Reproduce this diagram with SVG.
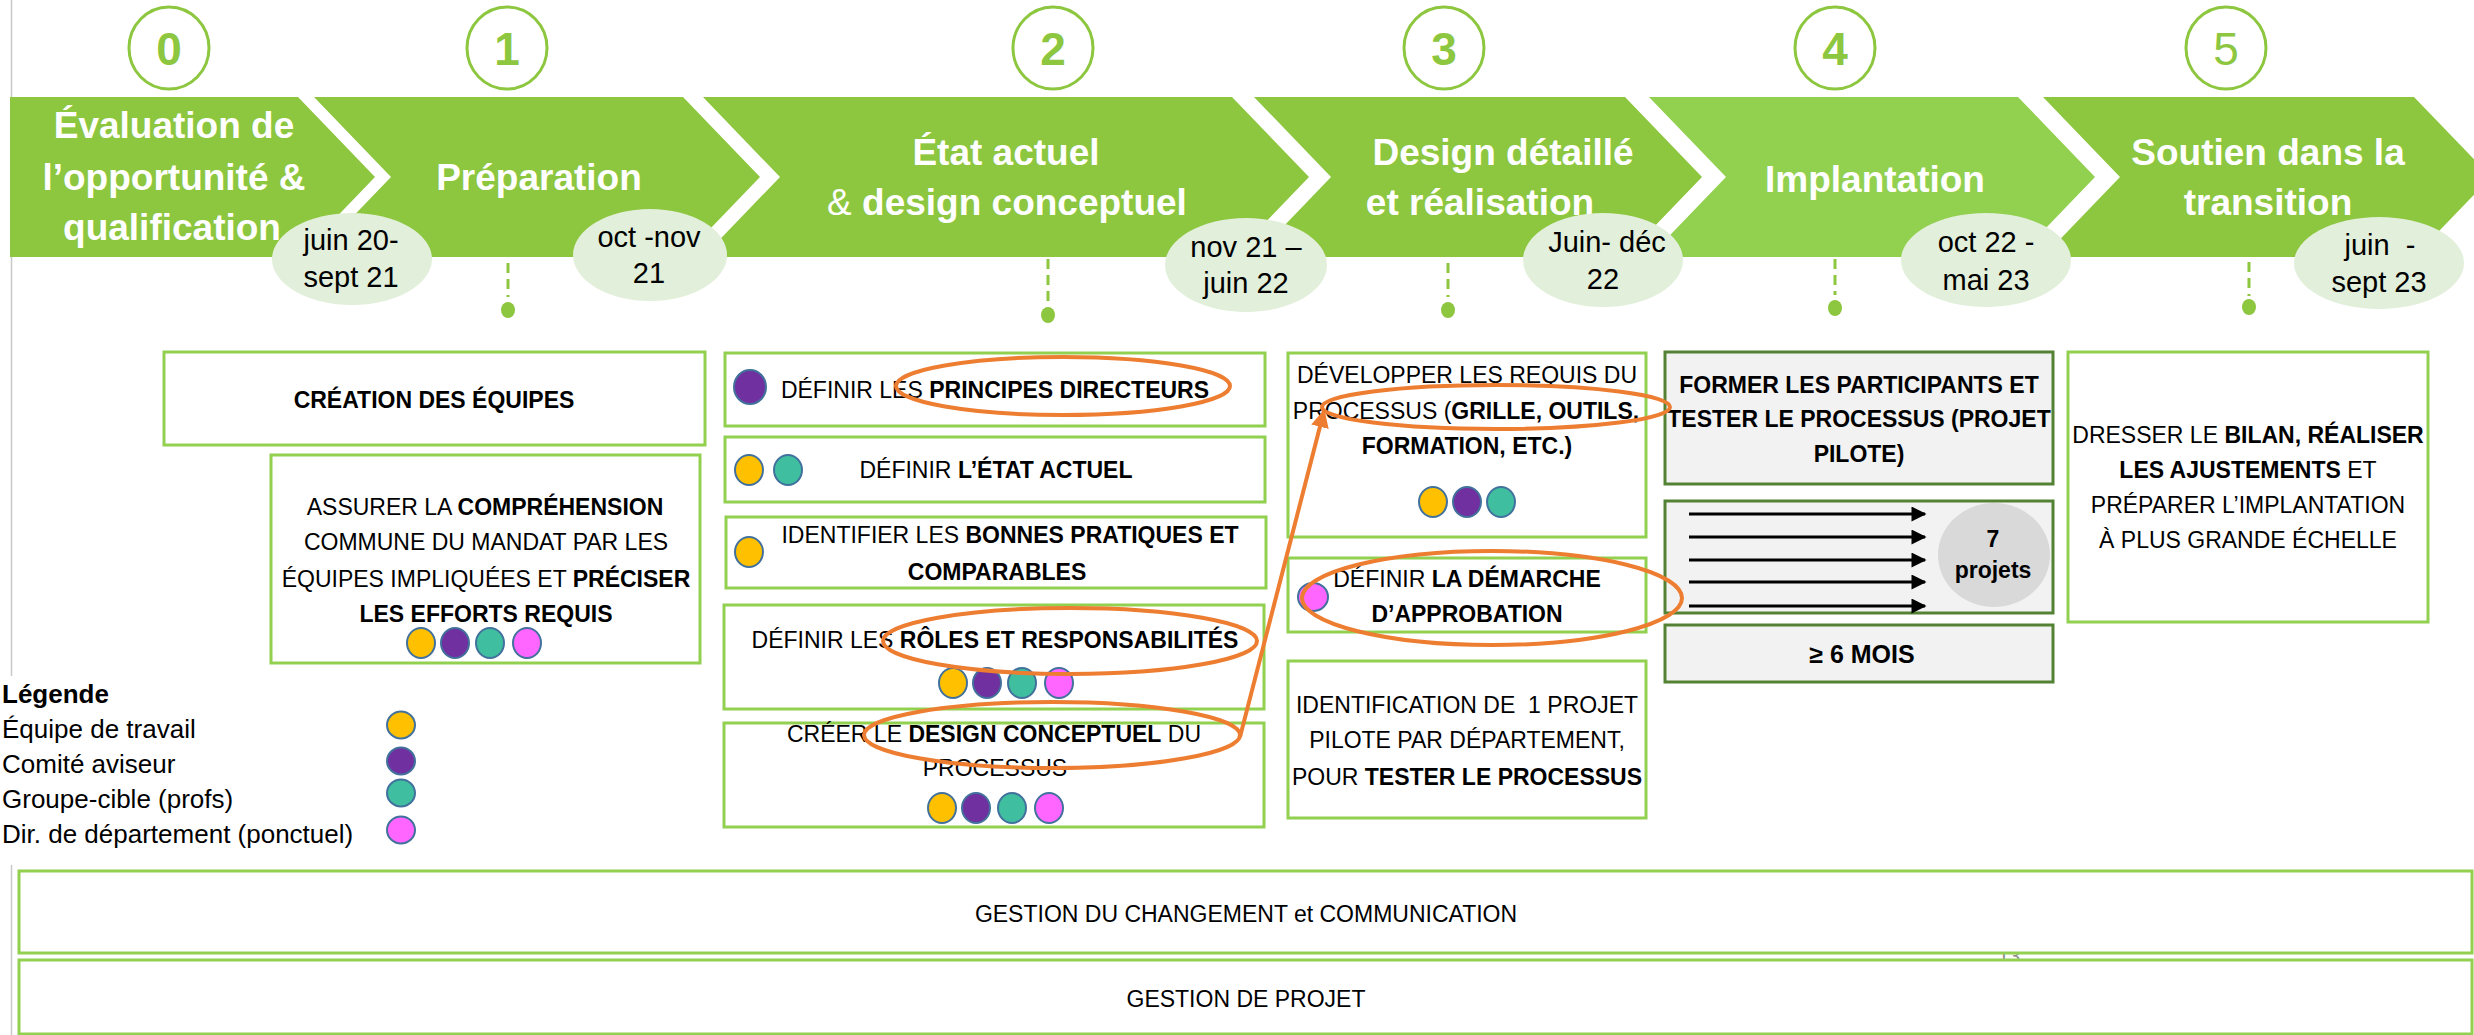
<svg xmlns="http://www.w3.org/2000/svg" width="2474" height="1035" viewBox="0 0 2474 1035">
<style>
text{font-family:"Liberation Sans",Arial,sans-serif;}
.chev{fill:#8DC63F;}
.chev4{fill:#92D050;}
.ttl{fill:#fff;font-weight:bold;font-size:37px;text-anchor:middle;}
.num{fill:#fff;stroke:#8DC63F;stroke-width:3;}
.numt{fill:#8DC63F;font-size:46px;font-weight:bold;text-anchor:middle;}
.date{fill:#E2EFDA;}
.datet{fill:#000;font-size:29px;text-anchor:middle;white-space:pre;}
.dash{stroke:#8DC63F;stroke-width:3;stroke-dasharray:10 6;fill:none;}
.dot{fill:#8DC63F;}
.box{fill:#fff;stroke:#92D050;stroke-width:3;}
.boxd{fill:#F2F2F2;stroke:#548235;stroke-width:3;}
.bt{fill:#000;font-size:23px;text-anchor:middle;white-space:pre;}
.b{font-weight:bold;}
.n{font-weight:normal;}
.y{fill:#FFC000;stroke:#41719C;stroke-width:2;}
.p{fill:#7030A0;stroke:#41719C;stroke-width:2;}
.t{fill:#3FBF9F;stroke:#41719C;stroke-width:2;}
.k{fill:#FF66FF;stroke:#41719C;stroke-width:2;}
.hl{fill:none;stroke:#ED7D31;stroke-width:4;}
.arr{stroke:#000;stroke-width:3;marker-end:url(#blk);}
.leg{fill:#000;font-size:26px;}
.bar{fill:#fff;stroke:#92D050;stroke-width:3;}
</style>
<defs>
<marker id="org" viewBox="0 0 10 10" refX="9" refY="5" markerWidth="4.5" markerHeight="4.5" orient="auto" markerUnits="strokeWidth">
<path d="M0,0 L10,5 L0,10 Z" fill="#ED7D31"/>
</marker>
<marker id="blk" viewBox="0 0 10 10" refX="9" refY="5" markerWidth="5.5" markerHeight="5" orient="auto" markerUnits="strokeWidth">
<path d="M0,0 L10,5 L0,10 Z" fill="#000"/>
</marker>
</defs>

<rect width="2474" height="1035" fill="#fff"/>
<line x1="11.5" y1="0" x2="11.5" y2="676" stroke="#C8C8C8" stroke-width="1.5"/>
<line x1="11.5" y1="865" x2="11.5" y2="1035" stroke="#C8C8C8" stroke-width="1.5"/>

<!-- Phase numbers -->
<g id="num0"><ellipse class="num" cx="169" cy="48" rx="40" ry="41"/><text class="numt" x="169" y="65">0</text></g>
<g id="num1"><ellipse class="num" cx="507" cy="48" rx="40" ry="41"/><text class="numt" x="507" y="65">1</text></g>
<g id="num2"><ellipse class="num" cx="1053" cy="48" rx="40" ry="41"/><text class="numt" x="1053" y="65">2</text></g>
<g id="num3"><ellipse class="num" cx="1444" cy="48" rx="40" ry="41"/><text class="numt" x="1444" y="65">3</text></g>
<g id="num4"><ellipse class="num" cx="1835" cy="48" rx="40" ry="41"/><text class="numt" x="1835" y="65">4</text></g>
<g id="num5"><ellipse class="num" cx="2226" cy="48" rx="40" ry="41"/><text class="numt n" x="2226" y="65">5</text></g>

<!-- Dashed timeline ticks -->
<g id="ticks">
<line class="dash" x1="508" y1="263" x2="508" y2="297"/><ellipse class="dot" cx="508" cy="310" rx="7" ry="8"/>
<line class="dash" x1="1048" y1="259" x2="1048" y2="301"/><ellipse class="dot" cx="1048" cy="315" rx="7" ry="8"/>
<line class="dash" x1="1448" y1="263" x2="1448" y2="297"/><ellipse class="dot" cx="1448" cy="310" rx="7" ry="8"/>
<line class="dash" x1="1835" y1="259" x2="1835" y2="295"/><ellipse class="dot" cx="1835" cy="308" rx="7" ry="8"/>
<line class="dash" x1="2249" y1="262" x2="2249" y2="296"/><ellipse class="dot" cx="2249" cy="307" rx="7" ry="8"/>
</g>

<!-- Chevrons -->
<g id="phase0">
<path class="chev" d="M10,97 L298,97 L375,177 L298,257 L10,257 Z"/>
<text class="ttl" x="174" y="138">Évaluation de</text>
<text class="ttl" x="174" y="190">l’opportunité &amp;</text>
<text class="ttl" x="172" y="240">qualification</text>
</g>
<g id="phase1">
<path class="chev" d="M314,97 L683,97 L760,177 L683,257 L314,257 L391,177 Z"/>
<text class="ttl" x="539" y="190">Préparation</text>
</g>
<g id="phase2">
<path class="chev" d="M703,97 L1232,97 L1309,177 L1232,257 L703,257 L780,177 Z"/>
<text class="ttl" x="1006" y="165">État actuel</text>
<text class="ttl" x="1007" y="215"><tspan class="n">&amp; </tspan>design conceptuel</text>
</g>
<g id="phase3">
<path class="chev" d="M1254,97 L1625,97 L1702,177 L1625,257 L1254,257 L1331,177 Z"/>
<text class="ttl" x="1503" y="165">Design détaillé</text>
<text class="ttl" x="1480" y="215">et réalisation</text>
</g>
<g id="phase4">
<path class="chev4" d="M1649,97 L2018,97 L2095,177 L2018,257 L1649,257 L1726,177 Z"/>
<text class="ttl" x="1875" y="192">Implantation</text>
</g>
<g id="phase5">
<path class="chev" d="M2043,97 L2414,97 L2491,177 L2414,257 L2043,257 L2120,177 Z"/>
<text class="ttl" x="2268" y="165">Soutien dans la</text>
<text class="ttl" x="2268" y="215">transition</text>
</g>

<!-- Dates -->
<g id="date0"><ellipse class="date" cx="352" cy="259" rx="80" ry="46"/><text class="datet" x="351" y="250">juin 20-</text><text class="datet" x="351" y="287">sept 21</text></g>
<g id="date1"><ellipse class="date" cx="650" cy="255" rx="77" ry="46"/><text class="datet" x="649" y="247">oct -nov</text><text class="datet" x="649" y="283">21</text></g>
<g id="date2"><ellipse class="date" cx="1246" cy="265" rx="81" ry="47"/><text class="datet" x="1246" y="257">nov 21 –</text><text class="datet" x="1246" y="293">juin 22</text></g>
<g id="date3"><ellipse class="date" cx="1603" cy="260" rx="80" ry="47"/><text class="datet" x="1607" y="252">Juin- déc</text><text class="datet" x="1603" y="289">22</text></g>
<g id="date4"><ellipse class="date" cx="1986" cy="260" rx="85" ry="47"/><text class="datet" x="1986" y="252">oct 22 -</text><text class="datet" x="1986" y="290">mai 23</text></g>
<g id="date5"><ellipse class="date" cx="2379" cy="263" rx="85" ry="46"/><text class="datet" x="2380" y="255">juin  -</text><text class="datet" x="2379" y="292">sept 23</text></g>

<!-- Column 1 -->
<g id="creation-equipes">
<rect class="box" x="164" y="352" width="541" height="93"/>
<text class="bt b" x="434" y="408">CRÉATION DES ÉQUIPES</text>
</g>
<g id="comprehension">
<rect class="box" x="271" y="455" width="429" height="208"/>
<text class="bt" x="485" y="515">ASSURER LA <tspan class="b">COMPRÉHENSION</tspan></text>
<text class="bt" x="486" y="550">COMMUNE DU MANDAT PAR LES</text>
<text class="bt" x="486" y="587">ÉQUIPES IMPLIQUÉES ET <tspan class="b">PRÉCISER</tspan></text>
<text class="bt b" x="486" y="622">LES EFFORTS REQUIS</text>
<ellipse class="y" cx="421" cy="643" rx="14" ry="15"/>
<ellipse class="p" cx="455" cy="643" rx="14" ry="15"/>
<ellipse class="t" cx="490" cy="643" rx="14" ry="15"/>
<ellipse class="k" cx="527" cy="643" rx="14" ry="15"/>
</g>

<!-- Column 2 -->
<g id="principes">
<rect class="box" x="725" y="353" width="540" height="73"/>
<ellipse class="p" cx="750" cy="387" rx="16" ry="17"/>
<text class="bt" x="995" y="398">DÉFINIR LES <tspan class="b">PRINCIPES DIRECTEURS</tspan></text>
</g>
<g id="etat-actuel">
<rect class="box" x="725" y="437" width="540" height="65"/>
<ellipse class="y" cx="749" cy="470" rx="14" ry="15"/>
<ellipse class="t" cx="788" cy="470" rx="14" ry="15"/>
<text class="bt" x="996" y="478">DÉFINIR <tspan class="b">L’ÉTAT ACTUEL</tspan></text>
</g>
<g id="bonnes-pratiques">
<rect class="box" x="726" y="517" width="540" height="71"/>
<ellipse class="y" cx="749" cy="552" rx="14" ry="15"/>
<text class="bt" x="1010" y="543">IDENTIFIER LES <tspan class="b">BONNES PRATIQUES ET</tspan></text>
<text class="bt b" x="997" y="580">COMPARABLES</text>
</g>
<g id="roles">
<rect class="box" x="724" y="605" width="540" height="104"/>
<text class="bt" x="995" y="648">DÉFINIR LES <tspan class="b">RÔLES ET RESPONSABILITÉS</tspan></text>
<ellipse class="y" cx="953" cy="683" rx="14" ry="15"/>
<ellipse class="p" cx="987" cy="683" rx="14" ry="15"/>
<ellipse class="t" cx="1022" cy="683" rx="14" ry="15"/>
<ellipse class="k" cx="1059" cy="683" rx="14" ry="15"/>
</g>
<g id="design-conceptuel">
<rect class="box" x="724" y="723" width="540" height="104"/>
<text class="bt" x="994" y="742">CRÉER LE <tspan class="b">DESIGN CONCEPTUEL</tspan> DU</text>
<text class="bt" x="995" y="776">PROCESSUS</text>
<ellipse class="y" cx="942" cy="808" rx="14" ry="15"/>
<ellipse class="p" cx="976" cy="808" rx="14" ry="15"/>
<ellipse class="t" cx="1012" cy="808" rx="14" ry="15"/>
<ellipse class="k" cx="1049" cy="808" rx="14" ry="15"/>
</g>

<!-- Column 3 -->
<g id="requis">
<rect class="box" x="1288" y="353" width="358" height="184"/>
<text class="bt" x="1467" y="383">DÉVELOPPER LES REQUIS DU</text>
<text class="bt" x="1466" y="419">PROCESSUS (<tspan class="b">GRILLE, OUTILS,</tspan></text>
<text class="bt b" x="1467" y="454">FORMATION, ETC.)</text>
<ellipse class="y" cx="1433" cy="502" rx="14" ry="15"/>
<ellipse class="p" cx="1467" cy="502" rx="14" ry="15"/>
<ellipse class="t" cx="1501" cy="502" rx="14" ry="15"/>
</g>
<g id="approbation">
<rect class="box" x="1288" y="558" width="358" height="74"/>
<ellipse class="k" cx="1313" cy="597" rx="15" ry="14"/>
<text class="bt" x="1467" y="587">DÉFINIR <tspan class="b">LA DÉMARCHE</tspan></text>
<text class="bt b" x="1467" y="622">D’APPROBATION</text>
</g>
<g id="projet-pilote">
<rect class="box" x="1288" y="661" width="358" height="157"/>
<text class="bt" x="1467" y="713">IDENTIFICATION DE  1 PROJET</text>
<text class="bt" x="1467" y="748">PILOTE PAR DÉPARTEMENT,</text>
<text class="bt" x="1467" y="785">POUR <tspan class="b">TESTER LE PROCESSUS</tspan></text>
</g>

<!-- Column 4 -->
<g id="former">
<rect class="boxd" x="1665" y="352" width="388" height="132"/>
<text class="bt b" x="1859" y="393">FORMER LES PARTICIPANTS ET</text>
<text class="bt b" x="1859" y="427">TESTER LE PROCESSUS (PROJET</text>
<text class="bt b" x="1859" y="462">PILOTE)</text>
</g>
<g id="sept-projets">
<rect class="boxd" x="1665" y="501" width="388" height="112"/>
<line class="arr" x1="1689" y1="514" x2="1925" y2="514"/>
<line class="arr" x1="1689" y1="537" x2="1925" y2="537"/>
<line class="arr" x1="1689" y1="560" x2="1925" y2="560"/>
<line class="arr" x1="1689" y1="582" x2="1925" y2="582"/>
<line class="arr" x1="1689" y1="606" x2="1925" y2="606"/>
<ellipse cx="1994" cy="555" rx="56" ry="52" fill="#D9D9D9"/>
<text class="bt b" x="1993" y="547">7</text>
<text class="bt b" x="1993" y="578">projets</text>
</g>
<g id="six-mois">
<rect class="boxd" x="1665" y="625" width="388" height="57"/>
<text class="bt b" x="1862" y="663" style="font-size:25px">≥ 6 MOIS</text>
</g>

<!-- Column 5 -->
<g id="bilan">
<rect class="box" x="2068" y="352" width="360" height="270"/>
<text class="bt" x="2248" y="443">DRESSER LE <tspan class="b">BILAN, RÉALISER</tspan></text>
<text class="bt" x="2248" y="478"><tspan class="b">LES AJUSTEMENTS</tspan> ET</text>
<text class="bt" x="2248" y="513">PRÉPARER L’IMPLANTATION</text>
<text class="bt" x="2248" y="548">À PLUS GRANDE ÉCHELLE</text>
</g>

<!-- Highlights and connector -->
<g id="highlights">
<ellipse class="hl" cx="1063" cy="386" rx="167" ry="29"/>
<ellipse class="hl" cx="1070" cy="641" rx="187" ry="33"/>
<ellipse class="hl" cx="1052" cy="735" rx="188" ry="33"/>
<ellipse class="hl" cx="1496" cy="407" rx="174" ry="22"/>
<ellipse class="hl" cx="1492" cy="598" rx="190" ry="47"/>
</g>
<g id="connectors">
<line x1="1240" y1="737" x2="1324" y2="411" stroke="#ED7D31" stroke-width="4" marker-end="url(#org)"/>
</g>

<!-- Legend -->
<g id="legende">
<text class="leg b" x="2" y="703">Légende</text>
<text class="leg" x="2" y="738">Équipe de travail</text>
<text class="leg" x="2" y="773">Comité aviseur</text>
<text class="leg" x="2" y="808">Groupe-cible (profs)</text>
<text class="leg" x="2" y="843">Dir. de département (ponctuel)</text>
<ellipse class="y" cx="401" cy="725" rx="14" ry="13.5"/>
<ellipse class="p" cx="401" cy="761" rx="14" ry="13.5"/>
<ellipse class="t" cx="401" cy="793" rx="14" ry="13.5"/>
<ellipse class="k" cx="401" cy="830" rx="14" ry="13.5"/>
</g>

<!-- Bottom bars -->
<text x="2009" y="963" style="font-size:20px;fill:#8C8C8C;text-anchor:middle">13</text>
<g id="gestion-changement">
<rect class="bar" x="19" y="871" width="2453" height="82"/>
<text class="bt" x="1246" y="922">GESTION DU CHANGEMENT et COMMUNICATION</text>
</g>
<g id="gestion-projet">
<rect class="bar" x="19" y="960" width="2453" height="74"/>
<text class="bt" x="1246" y="1007">GESTION DE PROJET</text>
</g>
</svg>
